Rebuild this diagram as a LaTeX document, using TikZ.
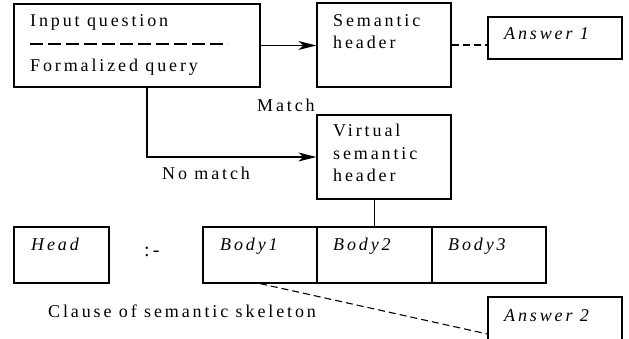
\documentclass[tikz,border=0pt]{standalone}
\usepackage{fontspec}
\setmainfont{Liberation Serif}[LetterSpace=16]
\usetikzlibrary{arrows.meta}
\begin{document}
\begin{tikzpicture}[x=1pt,y=-1pt,
  box/.style={draw, line width=1.2pt, rectangle, inner sep=0pt},
  lbl/.style={anchor=base west, inner sep=0pt, font=\fontsize{18}{22}\selectfont},
  ilbl/.style={lbl, font=\fontsize{18}{22}\selectfont\itshape},
  conn/.style={line width=1.2pt},
  arr/.style={conn, -{Stealth[length=18pt, width=9pt, inset=5pt]}},
  dconn/.style={line width=1.1pt, dash pattern=on 7pt off 4pt}]
\useasboundingbox (0,0) rectangle (629,339);
\fill[white] (0,0) rectangle (629,339);

% boxes
\node[box, minimum width=246pt, minimum height=83pt] (inp) at (137,45.5) {};
\node[box, minimum width=134pt, minimum height=84pt] (sem) at (384,45) {};
\node[box, minimum width=134pt, minimum height=42pt] (ans1) at (555,38) {};
\node[box, minimum width=134pt, minimum height=84pt] (virt) at (384,157) {};
\node[box, minimum width=95pt, minimum height=56pt] (head) at (61.5,255) {};
\node[box, minimum width=114pt, minimum height=56pt] (b1) at (260,255) {};
\node[box, minimum width=115pt, minimum height=56pt] (b2) at (374.5,255) {};
\node[box, minimum width=114pt, minimum height=56pt] (b3) at (489,255) {};
\node[box, minimum width=134pt, minimum height=50pt] (ans2) at (555,322) {};

% texts
\node[lbl] (t1) at (30,27) {Input question};
\draw[line width=1.1pt, dash pattern=on 13pt off 5pt] (30,44) -- (228,44);
\node[lbl] (t2) at (30,72) {Formalized query};
\node[lbl] (s1) at (333,27) {Semantic};
\node[lbl] (s2) at (333,49) {header};
\node[ilbl] (a1) at (504,40) {Answer 1};
\node[lbl] (m) at (257,112) {Match};
\node[lbl] (v1) at (333,137) {Virtual};
\node[lbl] (v2) at (333,160) {semantic};
\node[lbl] (v3) at (333,182) {header};
\node[lbl] (nm) at (162,180) {No match};
\node[ilbl] (h) at (31,250) {Head};
\node[lbl, font=\fontsize{20}{24}\selectfont] (nk) at (144,256) {:-};
\node[ilbl] (bb1) at (220,250) {Body1};
\node[ilbl] (bb2) at (333,250) {Body2};
\node[ilbl] (bb3) at (448,250) {Body3};
\node[lbl] (cl) at (48,317) {Clause of semantic skeleton};
\node[ilbl] (a2) at (504,321) {Answer 2};

% connectors
\draw[arr] (inp.east) -- (inp.east -| sem.west);
\draw[dconn] (sem.east) -- (sem.east -| ans1.west);
\draw[arr] ([xshift=10pt]inp.south) |- (virt.west);
\draw[conn] (b2.north) -- (b2.north |- virt.south);
\draw[dconn] (b1.south) -- ([yshift=-12pt]ans2.west);
\end{tikzpicture}
\end{document}
